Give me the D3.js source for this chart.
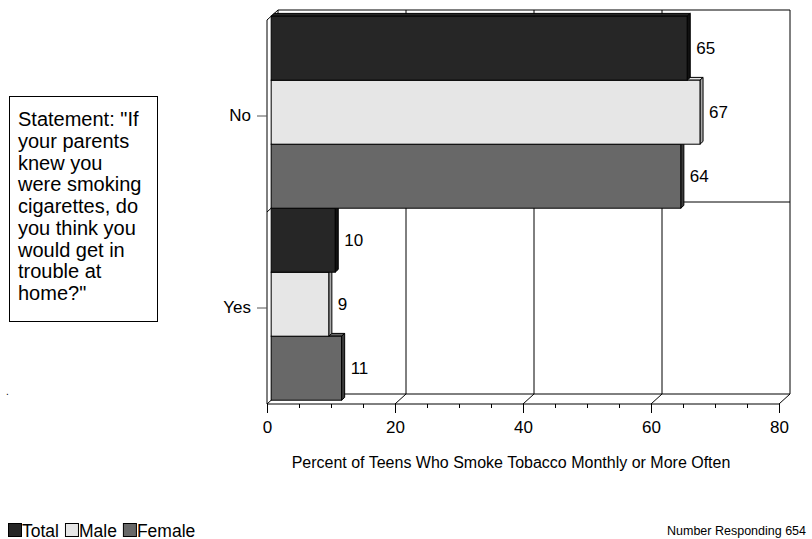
<!DOCTYPE html>
<html lang="en">
<head>
    <meta charset="UTF-8">
    <title>Trouble at home</title>
    <style>
        body{ margin:0; background:#fff; }
        text{ font-family: Arial, "Liberation Sans", sans-serif; fill:#000; }
        .wall{ stroke:#000; stroke-width:1px; fill:none; }
    </style>
    <script src="https://d3js.org/d3.v7.min.js"></script>
</head>
<body>
    <div class="canvas"></div>
    <script>
    // data
    const categories = ['No', 'Yes'];
    const seriesNames = ['Total', 'Male', 'Female'];
    const totalValues = [65, 10];
    const maleValues = [67, 9];
    const femaleValues = [64, 11];
    const xTicks = [0, 20, 40, 60, 80];
    const minorTicks = d3.range(0, 81, 5);
    const seriesColors = ['#262626', '#e6e6e6', '#686868'];
    const sideColors = ['#111111', '#a8a8a8', '#3c3c3c'];
    const statementLines = ['Statement: "If', 'your parents', 'knew you', 'were smoking',
        'cigarettes, do', 'you think you', 'would get in', 'trouble at', 'home?"'];
    const xTitle = 'Percent of Teens Who Smoke Tobacco Monthly or More Often';
    const footNote = 'Number Responding 654';

    const values = [totalValues, maleValues, femaleValues];

    const W = 812, H = 539;
    const svg = d3.select('.canvas').append('svg')
        .attr('width', W).attr('height', H);

    // front plane scales, depth shown as an offset up/right
    const x = d3.scaleLinear().domain([0, 80]).range([267, 779]);
    const y = d3.scaleBand().domain(categories).range([20, 404]);
    const inner = d3.scaleBand().domain(seriesNames).range([0, y.bandwidth()]);
    const dx = 11, dy = -10;
    const f1 = 0.38, f2 = 0.66;   // bar front / back depth

    const yTop = y.range()[0], yBot = y.range()[1];
    const g = svg.append('g');

    // back wall
    g.append('line').attr('class','wall')
        .attr('x1', x(0)+dx).attr('x2', x(80)+dx).attr('y1', yTop+dy).attr('y2', yTop+dy);
    g.selectAll('.vgrid').data(xTicks.slice(1)).enter().append('line')
        .attr('class','wall')
        .attr('x1', d => x(d)+dx).attr('x2', d => x(d)+dx)
        .attr('y1', yTop+dy).attr('y2', yBot+dy);
    g.selectAll('.hgrid').data(categories.slice(1)).enter().append('line')
        .attr('class','wall')
        .attr('x1', x(0)+dx).attr('x2', x(80)+dx)
        .attr('y1', d => y(d)+dy).attr('y2', d => y(d)+dy);
    // left wall
    g.append('path').attr('class','wall')
        .attr('d', `M${x(0)},${yBot}V${yTop}L${x(0)+dx},${yTop+dy}V${yBot+dy}`);
    g.selectAll('.lgrid').data(categories.slice(1)).enter().append('line')
        .attr('class','wall')
        .attr('x1', x(0)).attr('x2', x(0)+dx)
        .attr('y1', d => y(d)).attr('y2', d => y(d)+dy);
    // floor
    g.append('line').attr('class','wall')
        .attr('x1', x(0)+dx).attr('x2', x(80)+dx).attr('y1', yBot+dy).attr('y2', yBot+dy);
    g.selectAll('.fgrid').data(xTicks).enter().append('line')
        .attr('class','wall')
        .attr('x1', d => x(d)).attr('x2', d => x(d)+dx)
        .attr('y1', yBot).attr('y2', yBot+dy);

    // bars, drawn bottom-up so upper bars cover lower bars' top faces
    const bars = [];
    categories.forEach((c, ci) => {
        seriesNames.forEach((s, si) => {
            bars.push({cat: c, ser: s, si: si, v: values[si][ci]});
        });
    });
    bars.reverse();

    const bg = svg.append('g');
    bars.forEach(b => {
        const x0 = x(0), x1 = x(b.v);
        const y0 = y(b.cat) + inner(b.ser), y1 = y0 + inner.bandwidth();
        const ax = dx*f1, ay = dy*f1, bx = dx*f2, by = dy*f2;
        // top face
        bg.append('path')
            .attr('d', `M${x0+ax},${y0+ay}L${x0+bx},${y0+by}L${x1+bx},${y0+by}L${x1+ax},${y0+ay}Z`)
            .attr('fill', seriesColors[b.si]).attr('stroke', '#000').attr('stroke-width', 1);
        // side face
        bg.append('path')
            .attr('d', `M${x1+ax},${y0+ay}L${x1+bx},${y0+by}L${x1+bx},${y1+by}L${x1+ax},${y1+ay}Z`)
            .attr('fill', sideColors[b.si]).attr('stroke', '#000').attr('stroke-width', 1);
        // front face
        bg.append('rect')
            .attr('x', x0+ax).attr('y', y0+ay)
            .attr('width', x1-x0).attr('height', y1-y0)
            .attr('fill', seriesColors[b.si]).attr('stroke', '#000').attr('stroke-width', 1);
        bg.append('text')
            .attr('x', x1+bx+6).attr('y', (y0+y1)/2+ay)
            .attr('dy', '0.35em')
            .style('font-size', '17px')
            .text(b.v);
    });

    // front floor edge + x axis
    svg.append('line').attr('class','wall')
        .attr('x1', x(0)).attr('x2', x(80)).attr('y1', yBot).attr('y2', yBot);
    const minorAxis = svg.append('g')
        .attr('transform', `translate(0,${yBot})`)
        .call(d3.axisBottom(x).tickValues(minorTicks).tickSize(4).tickFormat(''));
    minorAxis.select('.domain').remove();
    const majorAxis = svg.append('g')
        .attr('transform', `translate(0,${yBot})`)
        .call(d3.axisBottom(x).tickValues(xTicks).tickSize(9).tickPadding(8));
    majorAxis.select('.domain').remove();
    majorAxis.selectAll('text').style('font-size', '17px').attr('font-family', null);

    // y axis
    const yAxis = svg.append('g')
        .attr('transform', `translate(${x(0)},0)`)
        .call(d3.axisLeft(y).tickSize(10).tickPadding(6));
    yAxis.select('.domain').remove();
    yAxis.selectAll('line').attr('stroke', '#555');
    yAxis.selectAll('text').style('font-size', '17px').attr('font-family', null);

    // axis title
    svg.append('text')
        .attr('x', 511).attr('y', 468)
        .attr('text-anchor', 'middle')
        .style('font-size', '16px')
        .text(xTitle);

    // statement box
    svg.append('rect')
        .attr('x', 9.5).attr('y', 96.5).attr('width', 148).attr('height', 225)
        .attr('fill', '#fff').attr('stroke', '#000');
    svg.append('g').selectAll('text').data(statementLines).enter().append('text')
        .attr('x', 18)
        .attr('y', (d, i) => 126 + i*21.75)
        .style('font-size', '20px')
        .text(d => d);

    svg.append('text').attr('x', 6).attr('y', 395).style('font-size', '10px').text('.');

    // legend
    const leg = svg.append('g').attr('transform', 'translate(8,523)');
    let lx = 0;
    seriesNames.forEach((s, i) => {
        leg.append('rect')
            .attr('x', lx+0.5).attr('y', 0.5).attr('width', 13).attr('height', 13)
            .attr('fill', seriesColors[i]).attr('stroke', '#000');
        const t = leg.append('text')
            .attr('x', lx+14).attr('y', 13.5)
            .style('font-size', '17.5px')
            .text(s);
        lx += 14 + t.node().getComputedTextLength() + 6;
    });

    svg.append('text')
        .attr('x', 806).attr('y', 535)
        .attr('text-anchor', 'end')
        .style('font-size', '12.5px')
        .text(footNote);
    </script>
</body>
</html>
